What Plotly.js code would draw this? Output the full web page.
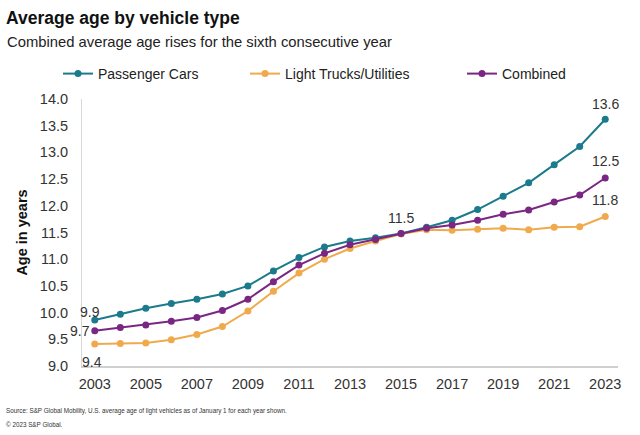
<!DOCTYPE html>
<html>
<head>
<meta charset="utf-8">
<script src="https://cdn.plot.ly/plotly-3.0.1.min.js"></script>
<style>html,body{margin:0;padding:0;background:#fff;}#chart{width:640px;height:435px;}</style>
</head>
<body>
<div id="chart"></div>
<script>
const years = [2003,2004,2005,2006,2007,2008,2009,2010,2011,2012,2013,2014,2015,2016,2017,2018,2019,2020,2021,2022,2023];
const passengerCars = [9.86,9.97,10.08,10.17,10.25,10.35,10.50,10.78,11.03,11.23,11.34,11.40,11.48,11.60,11.73,11.93,12.18,12.43,12.77,13.11,13.62];
const lightTrucks = [9.41,9.42,9.43,9.49,9.59,9.74,10.03,10.40,10.74,11.00,11.20,11.34,11.47,11.55,11.54,11.56,11.58,11.55,11.60,11.61,11.80];
const combined = [9.66,9.72,9.77,9.84,9.91,10.04,10.25,10.58,10.89,11.11,11.27,11.37,11.48,11.58,11.64,11.73,11.84,11.92,12.07,12.20,12.52];
const seriesNames = ['Passenger Cars','Light Trucks/Utilities','Combined'];
const colors = ['#1b7b8c','#f0aa4c','#7a2784'];
const xTicks = [2003,2005,2007,2009,2011,2013,2015,2017,2019,2021,2023];
const yTicks = [9.0,9.5,10.0,10.5,11.0,11.5,12.0,12.5,13.0,13.5,14.0];

const font = 'Liberation Sans, Arial, sans-serif';
const seriesData = [passengerCars, lightTrucks, combined];
const legendIds = ['legend','legend2','legend3'];
const traces = seriesData.map((ys,i)=>({
  x: years, y: ys, name: seriesNames[i], type:'scatter', mode:'lines+markers',
  line:{color:colors[i], width:2}, marker:{color:colors[i], size:7},
  legend: legendIds[i], hoverinfo:'x+y'
}));

function lab(x,y,txt,opts){
  return Object.assign({x:x,y:y,xref:'x',yref:'y',text:txt,showarrow:false,
    font:{family:font,size:14,color:'#333'}}, opts||{});
}
// plot area in pixels: x 82..618, y 99..366
function px2x(px){ return (px-82)/536; }
function py2y(py){ return (366-py)/267; }
const last = years.length-1;
const i2015 = years.indexOf(2015);
const annotations = [
  lab(years[0], passengerCars[0], passengerCars[0].toFixed(1), {xshift:-5, yshift:8}),
  lab(years[0], combined[0], combined[0].toFixed(1), {xanchor:'right', xshift:-3, yshift:0}),
  lab(years[0], lightTrucks[0], lightTrucks[0].toFixed(1), {xshift:-3, yshift:-18}),
  lab(years[i2015], combined[i2015], combined[i2015].toFixed(1), {yshift:16}),
  lab(years[last], passengerCars[last], passengerCars[last].toFixed(1), {yshift:15}),
  lab(years[last], combined[last], combined[last].toFixed(1), {yshift:17}),
  lab(years[last], lightTrucks[last], lightTrucks[last].toFixed(1), {yshift:16}),
  {xref:'paper', yref:'paper', x:px2x(5), y:py2y(42), xanchor:'left', yanchor:'middle', showarrow:false,
   text:'Combined average age rises for the sixth consecutive year', font:{family:font,size:14.8,color:'#222'}},
  {xref:'paper', yref:'paper', x:px2x(4), y:py2y(411), xanchor:'left', yanchor:'middle', showarrow:false,
   text:'Source: S&P Global Mobility, U.S. average age of light vehicles as of January 1 for each year shown.', font:{family:font,size:6.3,color:'#333'}},
  {xref:'paper', yref:'paper', x:px2x(4), y:py2y(424), xanchor:'left', yanchor:'middle', showarrow:false,
   text:'© 2023 S&P Global.', font:{family:font,size:6.3,color:'#333'}}
];

const legendXs = [58, 245, 462];
function legendAt(px){
  return {xref:'container', yref:'container', x:px/640, y:1-74/435, xanchor:'left', yanchor:'middle',
    orientation:'h', bgcolor:'rgba(0,0,0,0)', font:{family:font,size:14,color:'#222'}};
}

const layout = {
  width:640, height:435,
  margin:{l:82, r:22, t:99, b:69},
  paper_bgcolor:'#fff', plot_bgcolor:'#fff',
  title:{text:'<b>Average age by vehicle type</b>', xref:'container', yref:'container', x:6/640, y:1-18/435,
    xanchor:'left', yanchor:'middle', font:{family:font,size:17.5,color:'#111'}},
  showlegend:true,
  legend: legendAt(legendXs[0]),
  legend2: legendAt(legendXs[1]),
  legend3: legendAt(legendXs[2]),
  xaxis:{range:[2002.5,2023.5], tickvals:xTicks, ticktext:xTicks.map(String), showgrid:false, zeroline:false,
    showline:true, linecolor:'#d0d0d0', linewidth:1.5, ticks:'', ticklabelstandoff:4,
    tickfont:{family:font,size:14.5,color:'#333'}},
  yaxis:{range:[9,14], tickvals:yTicks, ticktext:yTicks.map(v=>v.toFixed(1)), showgrid:false, zeroline:false,
    showline:true, linecolor:'#d8d8d8', linewidth:1, ticks:'', ticklabelstandoff:10,
    tickfont:{family:font,size:14.5,color:'#333'},
    title:{text:'<b>Age in years</b>', font:{family:font,size:14.5,color:'#111'}, standoff:8}},
  annotations: annotations
};
Plotly.newPlot('chart', traces, layout, {displayModeBar:false, staticPlot:true});
</script>
</body>
</html>
